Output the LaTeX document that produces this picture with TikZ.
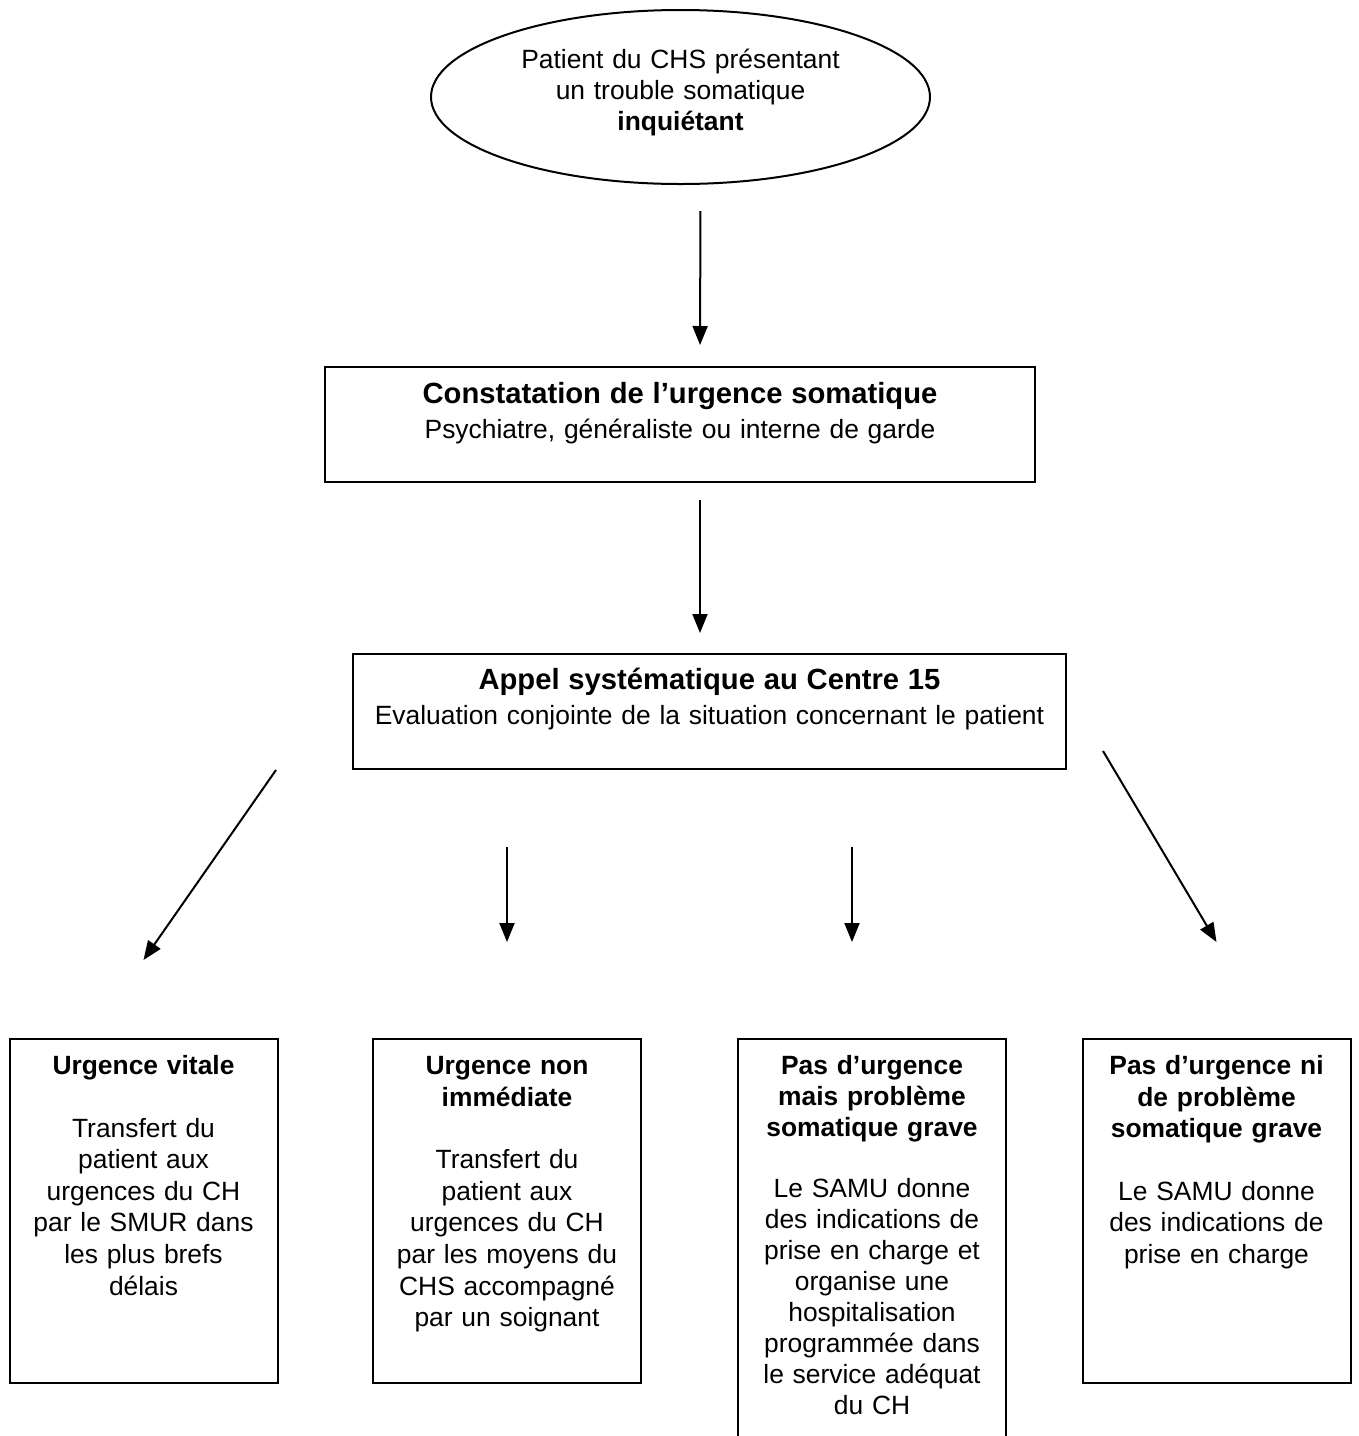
\documentclass[tikz,border=0pt]{standalone}
\usepackage{fontspec}
\setmainfont{Liberation Sans}
\usepackage{tikz}
\usetikzlibrary{arrows.meta,shapes.geometric}

\begin{document}
\begin{tikzpicture}[x=0.5pt,y=-0.5pt,line width=1pt,
		fleche/.style={-{Triangle[length=9.5pt,width=7.5pt]}},
		etape/.style={draw,rectangle,anchor=north,inner sep=0pt,align=center,
			font=\fontsize{13.2}{17.5}\selectfont},
		issue/.style={draw,rectangle,anchor=north,inner sep=0pt,text width=134pt,align=center,
			font=\fontsize{13.2}{15.8}\selectfont,text height=17.75pt,text depth=154.25pt}]
		\useasboundingbox (0,0) rectangle (1359,1436);
		\clip (0,0) rectangle (1359,1436);
%		\draw[help lines] (0,0) grid (1359,1436);

		\node[draw,ellipse,minimum width=249.5pt,minimum height=87pt,inner sep=0pt,
			text width=170pt,align=center,text height=10pt,text depth=38.5pt,
			font=\fontsize{13.2}{15.5}\selectfont] (patient) at (680.5,97)
			{Patient du CHS présentant\\un trouble somatique\\\textbf{inquiétant}};

		\node[etape,text width=355pt,text height=18.25pt,text depth=39.25pt] (constat) at (680,366)
			{{\fontsize{14.6}{17.5}\selectfont\bfseries Constatation de l’urgence somatique}\\
			Psychiatre, généraliste ou interne de garde};

		\node[etape,text width=356.5pt,text height=17.75pt,text depth=39.75pt] (appel) at (709.5,653)
			{{\fontsize{14.6}{17.5}\selectfont\bfseries Appel systématique au Centre 15}\\
			Evaluation conjointe de la situation concernant le patient};

		\node[issue] (vitale) at (143.5,1038)
			{\textbf{Urgence vitale}\\[15.5pt]
			Transfert du\\patient aux\\urgences du CH\\par le SMUR dans\\les plus brefs\\délais};
		\node[issue] (non_imm) at (507,1038)
			{\textbf{Urgence non}\\\textbf{immédiate}\\[15.5pt]
			Transfert du\\patient aux\\urgences du CH\\par les moyens du\\CHS accompagné\\par un soignant};
		\node[issue,text depth=200pt,font=\fontsize{13.2}{15.5}\selectfont] (grave) at (872,1038)
			{\textbf{Pas d’urgence}\\\textbf{mais problème}\\\textbf{somatique grave}\\[15pt]
			Le SAMU donne\\des indications de\\prise en charge et\\organise une\\hospitalisation\\programmée dans\\le service adéquat\\du CH};
		\node[issue] (aucune) at (1216.5,1038)
			{\textbf{Pas d’urgence ni}\\\textbf{de problème}\\\textbf{somatique grave}\\[15.5pt]
			Le SAMU donne\\des indications de\\prise en charge};

		\draw[fleche,shorten <=13pt,shorten >=10.5pt] ([xshift=10pt]patient.south) -- ([xshift=10pt]constat.north);
		\coordinate (c2) at ([xshift=10pt]constat.south);
		\draw[fleche,shorten <=8.5pt,shorten >=10pt] (c2) -- (c2 |- appel.north);

		\draw[fleche] ([xshift=-38pt]appel.south west) -- ([yshift=39pt]vitale.north);
		\draw[fleche,shorten <=38.5pt,shorten >=48pt] (appel.south -| non_imm.north) -- (non_imm.north);
		\coordinate (c3) at ([xshift=-10pt]grave.north);
		\draw[fleche,shorten <=38.5pt,shorten >=48pt] (c3 |- appel.south) -- (c3);
		\draw[fleche] ([xshift=18pt,yshift=9.5pt]appel.south east) -- ([yshift=48pt]aucune.north);
	\end{tikzpicture}
\end{document}
